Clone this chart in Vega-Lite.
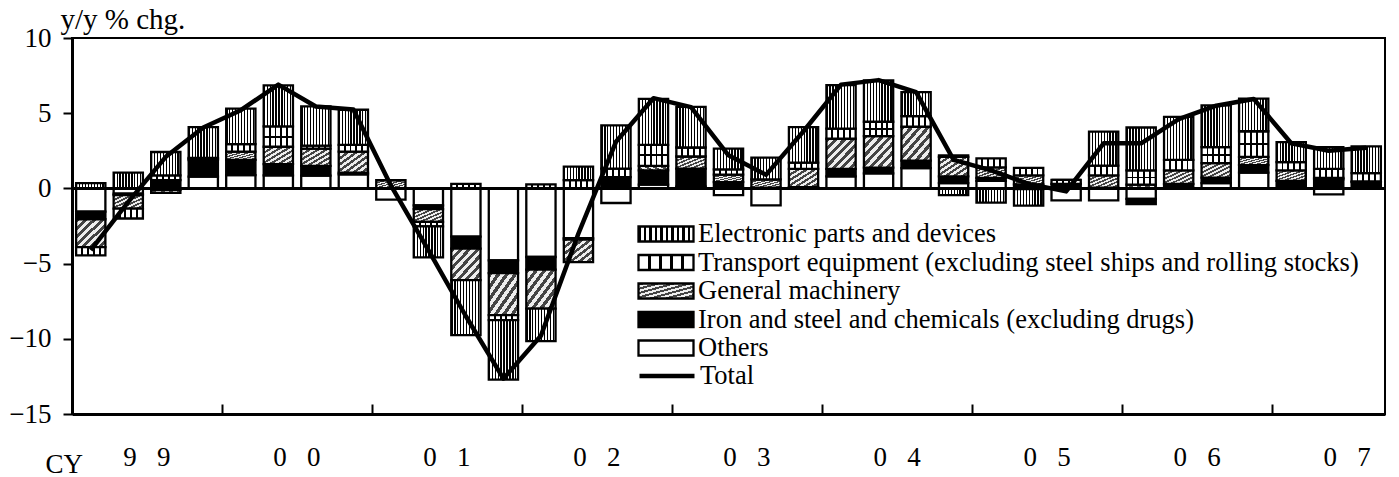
{
  "$schema": "https://vega.github.io/schema/vega-lite/v6.json",
  "width": 1313,
  "height": 376,
  "autosize": {"type": "none"},
  "padding": {"left": 72, "top": 38, "right": 14, "bottom": 63},
  "background": "white",
  "config": {
    "font": "Liberation Serif",
    "view": {"stroke": "black", "strokeWidth": 2},
    "axis": {"domainColor": "black", "tickColor": "black", "labelColor": "black", "labelFont": "Liberation Serif", "labelFontSize": 27, "titleFont": "Liberation Serif", "titleFontSize": 27, "titleFontWeight": "normal", "titleColor": "black", "grid": false}
  },
  "data": {"values": [
    {"q":"1999Q1","Others":-1.55,"Iron and steel and chemicals (excluding drugs)":-0.5,"General machinery":-1.85,"Transport equipment (excluding steel ships and rolling stocks)":-0.55,"Electronic parts and devices":0.35,"Total":-4.1},
    {"q":"1999Q2","Others":-0.35,"Iron and steel and chemicals (excluding drugs)":-0.1,"General machinery":-0.9,"Transport equipment (excluding steel ships and rolling stocks)":-0.65,"Electronic parts and devices":1.05,"Total":-0.9},
    {"q":"1999Q3","Others":-0.1,"Iron and steel and chemicals (excluding drugs)":0.55,"General machinery":-0.2,"Transport equipment (excluding steel ships and rolling stocks)":0.32,"Electronic parts and devices":1.55,"Total":2.1},
    {"q":"1999Q4","Others":0.78,"Iron and steel and chemicals (excluding drugs)":1.1,"General machinery":0.1,"Transport equipment (excluding steel ships and rolling stocks)":0.05,"Electronic parts and devices":2.05,"Total":4.05},
    {"q":"2000Q1","Others":0.88,"Iron and steel and chemicals (excluding drugs)":1.02,"General machinery":0.55,"Transport equipment (excluding steel ships and rolling stocks)":0.5,"Electronic parts and devices":2.35,"Total":5.2},
    {"q":"2000Q2","Others":0.87,"Iron and steel and chemicals (excluding drugs)":0.75,"General machinery":1.15,"Transport equipment (excluding steel ships and rolling stocks)":1.35,"Electronic parts and devices":2.73,"Total":6.9},
    {"q":"2000Q3","Others":0.85,"Iron and steel and chemicals (excluding drugs)":0.65,"General machinery":1.15,"Transport equipment (excluding steel ships and rolling stocks)":0.2,"Electronic parts and devices":2.6,"Total":5.45},
    {"q":"2000Q4","Others":0.93,"Iron and steel and chemicals (excluding drugs)":0.12,"General machinery":1.4,"Transport equipment (excluding steel ships and rolling stocks)":0.45,"Electronic parts and devices":2.33,"Total":5.25},
    {"q":"2001Q1","Others":-0.75,"Iron and steel and chemicals (excluding drugs)":0,"General machinery":0.55,"Transport equipment (excluding steel ships and rolling stocks)":0,"Electronic parts and devices":0,"Total":0.2},
    {"q":"2001Q2","Others":-1.13,"Iron and steel and chemicals (excluding drugs)":-0.25,"General machinery":-0.85,"Transport equipment (excluding steel ships and rolling stocks)":-0.3,"Electronic parts and devices":-2.05,"Total":-4.1},
    {"q":"2001Q3","Others":-3.2,"Iron and steel and chemicals (excluding drugs)":-0.8,"General machinery":-2.1,"Transport equipment (excluding steel ships and rolling stocks)":0.3,"Electronic parts and devices":-3.65,"Total":-8.5},
    {"q":"2001Q4","Others":-4.79,"Iron and steel and chemicals (excluding drugs)":-0.84,"General machinery":-2.8,"Transport equipment (excluding steel ships and rolling stocks)":-0.33,"Electronic parts and devices":-3.95,"Total":-12.65},
    {"q":"2002Q1","Others":-4.56,"Iron and steel and chemicals (excluding drugs)":-0.84,"General machinery":-2.6,"Transport equipment (excluding steel ships and rolling stocks)":0.27,"Electronic parts and devices":-2.15,"Total":-9.8},
    {"q":"2002Q2","Others":-3.3,"Iron and steel and chemicals (excluding drugs)":-0.1,"General machinery":-1.5,"Transport equipment (excluding steel ships and rolling stocks)":0.55,"Electronic parts and devices":0.9,"Total":-3.0},
    {"q":"2002Q3","Others":-0.97,"Iron and steel and chemicals (excluding drugs)":0.75,"General machinery":0,"Transport equipment (excluding steel ships and rolling stocks)":0.56,"Electronic parts and devices":2.88,"Total":3.1},
    {"q":"2002Q4","Others":0.25,"Iron and steel and chemicals (excluding drugs)":0.95,"General machinery":0.3,"Transport equipment (excluding steel ships and rolling stocks)":1.4,"Electronic parts and devices":3.05,"Total":6.0},
    {"q":"2003Q1","Others":0.12,"Iron and steel and chemicals (excluding drugs)":1.2,"General machinery":0.8,"Transport equipment (excluding steel ships and rolling stocks)":0.6,"Electronic parts and devices":2.7,"Total":5.4},
    {"q":"2003Q2","Others":-0.45,"Iron and steel and chemicals (excluding drugs)":0.42,"General machinery":0.5,"Transport equipment (excluding steel ships and rolling stocks)":0.35,"Electronic parts and devices":1.37,"Total":2.2},
    {"q":"2003Q3","Others":-1.13,"Iron and steel and chemicals (excluding drugs)":0.05,"General machinery":0.55,"Transport equipment (excluding steel ships and rolling stocks)":0,"Electronic parts and devices":1.45,"Total":0.9},
    {"q":"2003Q4","Others":0.08,"Iron and steel and chemicals (excluding drugs)":0,"General machinery":1.22,"Transport equipment (excluding steel ships and rolling stocks)":0.42,"Electronic parts and devices":2.35,"Total":3.8},
    {"q":"2004Q1","Others":0.8,"Iron and steel and chemicals (excluding drugs)":0.5,"General machinery":2.0,"Transport equipment (excluding steel ships and rolling stocks)":0.67,"Electronic parts and devices":2.9,"Total":6.9},
    {"q":"2004Q2","Others":1.0,"Iron and steel and chemicals (excluding drugs)":0.38,"General machinery":2.1,"Transport equipment (excluding steel ships and rolling stocks)":0.95,"Electronic parts and devices":2.75,"Total":7.2},
    {"q":"2004Q3","Others":1.35,"Iron and steel and chemicals (excluding drugs)":0.5,"General machinery":2.25,"Transport equipment (excluding steel ships and rolling stocks)":0.7,"Electronic parts and devices":1.6,"Total":6.4},
    {"q":"2004Q4","Others":0.35,"Iron and steel and chemicals (excluding drugs)":0.45,"General machinery":1.3,"Transport equipment (excluding steel ships and rolling stocks)":0.1,"Electronic parts and devices":-0.45,"Total":1.9},
    {"q":"2005Q1","Others":0.5,"Iron and steel and chemicals (excluding drugs)":0.2,"General machinery":0.7,"Transport equipment (excluding steel ships and rolling stocks)":0.6,"Electronic parts and devices":-0.95,"Total":1.2},
    {"q":"2005Q2","Others":-0.05,"Iron and steel and chemicals (excluding drugs)":0.27,"General machinery":0.6,"Transport equipment (excluding steel ships and rolling stocks)":0.5,"Electronic parts and devices":-1.1,"Total":0.3},
    {"q":"2005Q3","Others":-0.8,"Iron and steel and chemicals (excluding drugs)":0.3,"General machinery":0,"Transport equipment (excluding steel ships and rolling stocks)":0.27,"Electronic parts and devices":0,"Total":-0.2},
    {"q":"2005Q4","Others":-0.8,"Iron and steel and chemicals (excluding drugs)":0.05,"General machinery":0.82,"Transport equipment (excluding steel ships and rolling stocks)":0.65,"Electronic parts and devices":2.25,"Total":3.0},
    {"q":"2006Q1","Others":-0.7,"Iron and steel and chemicals (excluding drugs)":-0.35,"General machinery":0.25,"Transport equipment (excluding steel ships and rolling stocks)":0.95,"Electronic parts and devices":2.85,"Total":3.0},
    {"q":"2006Q2","Others":0,"Iron and steel and chemicals (excluding drugs)":0.3,"General machinery":0.9,"Transport equipment (excluding steel ships and rolling stocks)":0.7,"Electronic parts and devices":2.85,"Total":4.6},
    {"q":"2006Q3","Others":0.35,"Iron and steel and chemicals (excluding drugs)":0.36,"General machinery":0.97,"Transport equipment (excluding steel ships and rolling stocks)":1.07,"Electronic parts and devices":2.77,"Total":5.5},
    {"q":"2006Q4","Others":1.05,"Iron and steel and chemicals (excluding drugs)":0.5,"General machinery":0.55,"Transport equipment (excluding steel ships and rolling stocks)":1.7,"Electronic parts and devices":2.17,"Total":5.95},
    {"q":"2007Q1","Others":0,"Iron and steel and chemicals (excluding drugs)":0.5,"General machinery":0.7,"Transport equipment (excluding steel ships and rolling stocks)":0.55,"Electronic parts and devices":1.33,"Total":3.0},
    {"q":"2007Q2","Others":-0.4,"Iron and steel and chemicals (excluding drugs)":0.6,"General machinery":0.1,"Transport equipment (excluding steel ships and rolling stocks)":0.6,"Electronic parts and devices":1.45,"Total":2.5},
    {"q":"2007Q3","Others":0,"Iron and steel and chemicals (excluding drugs)":0.42,"General machinery":0.05,"Transport equipment (excluding steel ships and rolling stocks)":0.55,"Electronic parts and devices":1.77,"Total":2.7}
  ]},
  "layer": [
    {
      "transform": [
        {"fold": ["Others", "Iron and steel and chemicals (excluding drugs)", "General machinery", "Transport equipment (excluding steel ships and rolling stocks)", "Electronic parts and devices"], "as": ["category", "value"]},
        {"window": [{"op": "row_number", "as": "rank"}], "groupby": ["q"]},
        {"stack": "value", "groupby": ["q"], "sort": [{"field": "rank", "order": "ascending"}], "as": ["v0", "v1"]}
      ],
      "mark": {"type": "bar", "stroke": "black", "strokeWidth": 2.3},
      "encoding": {
        "x": {"field": "q", "type": "nominal", "sort": null,
          "scale": {"paddingInner": 0.22, "paddingOuter": 0.11},
          "axis": {"values": ["1999Q1","2000Q1","2001Q1","2002Q1","2003Q1","2004Q1","2005Q1","2006Q1","2007Q1"],
            "bandPosition": -0.141, "labelExpr": "substring(datum.value,2,3) + '\u00a0\u00a0\u00a0' + substring(datum.value,3,4)",
            "labelOffset": 56, "labelAngle": 0, "labelBaseline": "top", "labelPadding": 40,
            "tickSize": -10, "tickWidth": 2, "domainWidth": 3,
            "title": "CY", "titleX": -27, "titleY": 58, "titleAlign": "left", "titleAnchor": "start", "titleBaseline": "alphabetic"}},
        "y": {"field": "v0", "type": "quantitative",
          "scale": {"domain": [-15, 10], "nice": false},
          "axis": {"values": [-15, -10, -5, 0, 5, 10], "tickSize": 9, "tickWidth": 2, "domainWidth": 3, "labelPadding": 12,
            "title": "y/y % chg.", "titleFontSize": 29, "titleAngle": 0, "titleX": -12, "titleY": -10, "titleAlign": "left", "titleAnchor": "start", "titleBaseline": "alphabetic"}},
        "y2": {"field": "v1"},
        "color": {"field": "category", "type": "nominal",
          "scale": {
            "domain": ["Electronic parts and devices", "Transport equipment (excluding steel ships and rolling stocks)", "General machinery", "Iron and steel and chemicals (excluding drugs)", "Others"],
            "range": [
              {"expr": "{gradient:'linear',x1:0,y1:0,x2:1,y2:0,stops:[{offset:0,color:'#000'},{offset:0.045,color:'#000'},{offset:0.045,color:'#fff'},{offset:0.1,color:'#fff'},{offset:0.1,color:'#000'},{offset:0.145,color:'#000'},{offset:0.145,color:'#fff'},{offset:0.2,color:'#fff'},{offset:0.2,color:'#000'},{offset:0.245,color:'#000'},{offset:0.245,color:'#fff'},{offset:0.3,color:'#fff'},{offset:0.3,color:'#000'},{offset:0.345,color:'#000'},{offset:0.345,color:'#fff'},{offset:0.4,color:'#fff'},{offset:0.4,color:'#000'},{offset:0.445,color:'#000'},{offset:0.445,color:'#fff'},{offset:0.5,color:'#fff'},{offset:0.5,color:'#000'},{offset:0.545,color:'#000'},{offset:0.545,color:'#fff'},{offset:0.6,color:'#fff'},{offset:0.6,color:'#000'},{offset:0.645,color:'#000'},{offset:0.645,color:'#fff'},{offset:0.7,color:'#fff'},{offset:0.7,color:'#000'},{offset:0.745,color:'#000'},{offset:0.745,color:'#fff'},{offset:0.8,color:'#fff'},{offset:0.8,color:'#000'},{offset:0.845,color:'#000'},{offset:0.845,color:'#fff'},{offset:0.9,color:'#fff'},{offset:0.9,color:'#000'},{offset:0.945,color:'#000'},{offset:0.945,color:'#fff'},{offset:1,color:'#fff'}]}"},
              {"expr": "{gradient:'linear',x1:0,y1:0,x2:1,y2:0,stops:[{offset:0,color:'#fff'},{offset:0.17,color:'#fff'},{offset:0.17,color:'#000'},{offset:0.235,color:'#000'},{offset:0.235,color:'#fff'},{offset:0.37,color:'#fff'},{offset:0.37,color:'#000'},{offset:0.435,color:'#000'},{offset:0.435,color:'#fff'},{offset:0.57,color:'#fff'},{offset:0.57,color:'#000'},{offset:0.635,color:'#000'},{offset:0.635,color:'#fff'},{offset:0.77,color:'#fff'},{offset:0.77,color:'#000'},{offset:0.835,color:'#000'},{offset:0.835,color:'#fff'},{offset:1,color:'#fff'}]}"},
              {"expr": "{gradient:'linear',x1:0,y1:0,x2:1,y2:1,stops:[{offset:0,color:'#444'},{offset:0.07,color:'#444'},{offset:0.07,color:'#eee'},{offset:0.143,color:'#eee'},{offset:0.143,color:'#444'},{offset:0.213,color:'#444'},{offset:0.213,color:'#eee'},{offset:0.286,color:'#eee'},{offset:0.286,color:'#444'},{offset:0.356,color:'#444'},{offset:0.356,color:'#eee'},{offset:0.429,color:'#eee'},{offset:0.429,color:'#444'},{offset:0.499,color:'#444'},{offset:0.499,color:'#eee'},{offset:0.571,color:'#eee'},{offset:0.571,color:'#444'},{offset:0.641,color:'#444'},{offset:0.641,color:'#eee'},{offset:0.714,color:'#eee'},{offset:0.714,color:'#444'},{offset:0.784,color:'#444'},{offset:0.784,color:'#eee'},{offset:0.857,color:'#eee'},{offset:0.857,color:'#444'},{offset:0.927,color:'#444'},{offset:0.927,color:'#eee'},{offset:1,color:'#eee'}]}"},
              "#000000",
              "#ffffff"
            ]},
          "legend": {"orient": "none", "legendX": 580, "legendY": 182, "title": null, "padding": 0,
            "symbolType": "M-2.2,-0.6H2.2V0.6H-2.2Z", "symbolSize": 625, "symbolStrokeColor": "black", "symbolStrokeWidth": 2.3,
            "labelFont": "Liberation Serif", "labelFontSize": 26.5, "labelColor": "black", "labelOffset": 18, "labelLimit": 1000, "rowPadding": 0.5,
            "encode": {"symbols": {"update": {
              "stroke": {"value": "black"},
              "strokeWidth": {"value": 2.3},
              "opacity": {"value": 1}
            }}}}
        }
      }
    },
    {
      "transform": [
        {"fold": ["Others", "Iron and steel and chemicals (excluding drugs)", "General machinery", "Transport equipment (excluding steel ships and rolling stocks)", "Electronic parts and devices"], "as": ["category", "value"]},
        {"window": [{"op": "row_number", "as": "rank"}], "groupby": ["q"]},
        {"stack": "value", "groupby": ["q"], "sort": [{"field": "rank", "order": "ascending"}], "as": ["v0", "v1"]},
        {"filter": "datum.category === 'Transport equipment (excluding steel ships and rolling stocks)' && abs(datum.value) >= 0.8"}
      ],
      "mark": {"type": "bar", "strokeWidth": 0,
        "fill": {"gradient": "linear", "x1": 0, "y1": 0, "x2": 0, "y2": 1, "stops": [
          {"offset": 0, "color": "rgba(0,0,0,0)"}, {"offset": 0.45, "color": "rgba(0,0,0,0)"},
          {"offset": 0.45, "color": "#000"}, {"offset": 0.55, "color": "#000"},
          {"offset": 0.55, "color": "rgba(0,0,0,0)"}, {"offset": 1, "color": "rgba(0,0,0,0)"}]}},
      "encoding": {
        "x": {"field": "q", "type": "nominal", "sort": null},
        "y": {"field": "v0", "type": "quantitative", "title": "y/y % chg."},
        "y2": {"field": "v1"}
      }
    },
    {
      "mark": {"type": "rule", "color": "black", "strokeWidth": 2},
      "encoding": {"y": {"datum": 0, "type": "quantitative"}}
    },
    {
      "mark": {"type": "line", "strokeWidth": 4.5, "strokeJoin": "round"},
      "encoding": {
        "x": {"field": "q", "type": "nominal", "sort": null},
        "y": {"field": "Total", "type": "quantitative", "title": "y/y % chg."},
        "stroke": {"datum": "Total", "type": "nominal",
          "scale": {"domain": ["Total"], "range": ["#000000"]},
          "legend": {"orient": "none", "legendX": 580, "legendY": 323, "title": null, "padding": 0,
            "symbolType": "M-2.2,0H2.2", "symbolSize": 625, "symbolStrokeWidth": 4.5, "symbolStrokeColor": "black",
            "labelFont": "Liberation Serif", "labelFontSize": 26.5, "labelColor": "black", "labelOffset": 18, "labelLimit": 1000}}
      }
    }
  ]
}
